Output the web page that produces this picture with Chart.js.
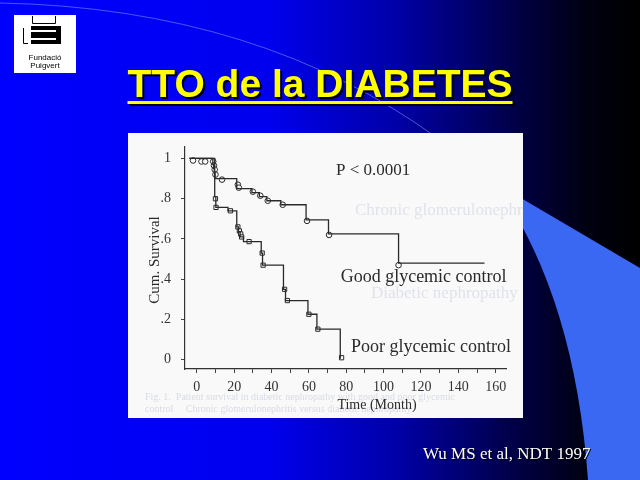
<!DOCTYPE html>
<html lang="es">
<head>
<meta charset="UTF-8">
<title>TTO de la DIABETES</title>
<script src="https://cdn.jsdelivr.net/npm/chart.js"></script>
<style>
  html, body { margin: 0; padding: 0; background: #0000f0; overflow: hidden; }
  #chart { display: block; }
</style>
</head>
<body>
<canvas id="chart" width="640" height="480"></canvas>
<script>
// Kaplan-Meier steps (months, cumulative survival)
const goodTime = [-4, 8.6, 9.0, 9.4, 9.8, 21.4, 29.5, 33.5, 37.5, 45, 58.5, 70.5, 108, 154];
const goodSurv = [1, 0.97, 0.95, 0.93, 0.90, 0.85, 0.83, 0.81, 0.79, 0.77, 0.695, 0.625, 0.48, 0.48];
const goodCensTime = [-2, 2.5, 4.5, 8.8, 9.2, 9.6, 10, 13.5, 22, 22.5, 30, 34, 38, 46, 59, 70.8, 108];
const goodCensSurv = [0.99, 0.985, 0.985, 0.985, 0.965, 0.945, 0.92, 0.895, 0.87, 0.855, 0.835, 0.815, 0.79, 0.77, 0.69, 0.62, 0.47];

const poorTime = [-4, 9.6, 10.2, 16.7, 21.4, 22.3, 23.2, 25, 34.5, 35.2, 46.4, 47.5, 59.5, 64.3, 76.8];
const poorSurv = [1, 0.81, 0.757, 0.74, 0.66, 0.636, 0.61, 0.587, 0.53, 0.47, 0.35, 0.294, 0.226, 0.152, 0.005];
const poorCensTime = [10, 10.3, 18, 22, 22.8, 23.5, 24, 28, 35, 35.5, 47, 48.5, 60, 64.8, 77.5];
const poorCensSurv = [0.80, 0.757, 0.74, 0.66, 0.64, 0.625, 0.61, 0.587, 0.53, 0.47, 0.35, 0.294, 0.226, 0.152, 0.01];

const xTicks = [0, 10, 20, 30, 40, 50, 60, 70, 80, 90, 100, 110, 120, 130, 140, 150, 160];
const yTicks = [0, 0.2, 0.4, 0.6, 0.8, 1];
const yTickLabels = ['0', '.2', '.4', '.6', '.8', '1'];

const toPoints = (xs, ys) => xs.map((x, i) => ({ x: x, y: ys[i] }));

const SERIF = '"Liberation Serif", "DejaVu Serif", serif';
const INK = '#2a2a2a';

// slide background, logo, title, white paper box
const slidePlugin = {
    id: 'slide',
    beforeDraw(chart) {
        const ctx = chart.ctx;
        ctx.save();
        const g = ctx.createLinearGradient(0, 0, 640, 0);
        g.addColorStop(0, '#0000ff');
        g.addColorStop(0.42, '#0000ee');
        g.addColorStop(0.62, '#0000a8');
        g.addColorStop(0.8, '#000048');
        g.addColorStop(0.92, '#000010');
        g.addColorStop(1, '#000000');
        ctx.fillStyle = g;
        ctx.fillRect(0, 0, 640, 480);

        // thin light arc
        ctx.strokeStyle = 'rgba(130,160,255,0.55)';
        ctx.lineWidth = 1;
        ctx.beginPath();
        ctx.moveTo(0, 3);
        ctx.quadraticCurveTo(260, 8, 440, 140);
        ctx.stroke();

        // light blue swoosh bottom right
        ctx.fillStyle = '#3b68f2';
        ctx.beginPath();
        ctx.moveTo(480, 174);
        ctx.lineTo(640, 268);
        ctx.lineTo(640, 480);
        ctx.lineTo(588, 480);
        ctx.quadraticCurveTo(575, 300, 500, 190);
        ctx.closePath();
        ctx.fill();

        // logo
        ctx.fillStyle = '#ffffff';
        ctx.fillRect(14, 15, 62, 58);
        ctx.strokeStyle = '#000';
        ctx.lineWidth = 1;
        ctx.beginPath();
        ctx.moveTo(32.5, 16); ctx.lineTo(32.5, 23.5); ctx.lineTo(55.5, 23.5); ctx.lineTo(55.5, 16);
        ctx.moveTo(23.5, 28); ctx.lineTo(23.5, 43.5); ctx.lineTo(28, 43.5);
        ctx.stroke();
        ctx.fillStyle = '#000';
        ctx.fillRect(31, 26, 30, 4);
        ctx.fillRect(31, 32, 30, 6);
        ctx.fillRect(31, 40, 30, 4);
        ctx.fillRect(56, 26, 5, 18);
        ctx.font = '8px "Liberation Sans", Arial, sans-serif';
        ctx.textAlign = 'center';
        ctx.textBaseline = 'middle';
        ctx.fillText('Fundació', 45, 58);
        ctx.fillText('Puigvert', 45, 66);

        // title
        ctx.font = 'bold 39px "Liberation Sans", Arial, sans-serif';
        ctx.textAlign = 'center';
        ctx.textBaseline = 'alphabetic';
        const title = 'TTO de la DIABETES';
        const tw = ctx.measureText(title).width;
        ctx.fillStyle = '#000000';
        ctx.fillText(title, 322, 99);
        ctx.fillRect(320 - tw / 2 + 2, 103, tw, 3);
        ctx.fillStyle = '#ffff00';
        ctx.fillText(title, 320, 97);
        ctx.fillRect(320 - tw / 2, 101, tw, 3);

        // citation
        ctx.font = '17px ' + SERIF;
        ctx.textAlign = 'left';
        ctx.fillStyle = '#000';
        ctx.fillText('Wu MS et al, NDT 1997', 424, 460);
        ctx.fillStyle = '#ffffff';
        ctx.fillText('Wu MS et al, NDT 1997', 423, 459);

        // paper
        ctx.fillStyle = '#f9f9f9';
        ctx.fillRect(128, 133, 395, 285);

        // faint show-through from the scanned page
        ctx.beginPath();
        ctx.rect(128, 133, 395, 285);
        ctx.clip();
        ctx.fillStyle = 'rgba(185,190,215,0.38)';
        ctx.font = '17px ' + SERIF;
        ctx.textBaseline = 'middle';
        ctx.fillText('Chronic glomerulonephritis', 355, 211);
        ctx.fillText('Diabetic nephropathy', 371, 294);
        ctx.font = '10px ' + SERIF;
        ctx.fillStyle = 'rgba(170,175,200,0.4)';
        ctx.fillText('Fig. 1.  Patient survival in diabetic nephropathy with good and poor glycemic', 145, 397);
        ctx.fillText('control     Chronic glomerulonephritis versus diabetic nephropathy', 145, 409);
        ctx.restore();
    },
    afterDatasetsDraw(chart) {
        const ctx = chart.ctx;
        const xs = chart.scales.x;
        const ys = chart.scales.y;
        ctx.save();
        ctx.fillStyle = INK;
        ctx.textAlign = 'left';
        ctx.textBaseline = 'middle';
        ctx.font = '17px ' + SERIF;
        ctx.fillText('P < 0.0001', xs.getPixelForValue(74.5), ys.getPixelForValue(0.94));
        ctx.font = '18px ' + SERIF;
        ctx.fillText('Good glycemic control', xs.getPixelForValue(77), ys.getPixelForValue(0.41));
        ctx.fillText('Poor glycemic control', xs.getPixelForValue(82.5), ys.getPixelForValue(0.06));

        // axis titles
        ctx.font = '14px ' + SERIF;
        ctx.textAlign = 'center';
        ctx.fillText('Time (Month)', 377, 405);
        ctx.translate(155, 260);
        ctx.rotate(-Math.PI / 2);
        ctx.font = '15px ' + SERIF;
        ctx.fillText('Cum. Survival', 0, 0);
        ctx.restore();
    }
};

const lineStyle = {
    borderColor: INK,
    borderWidth: 1.3,
    pointRadius: 0,
    fill: false,
    stepped: true,
    tension: 0
};

const markStyle = {
    showLine: false,
    borderColor: INK,
    backgroundColor: 'rgba(249,249,249,0.9)',
    borderWidth: 1
};

new Chart(document.getElementById('chart'), {
    type: 'line',
    data: {
        datasets: [
            Object.assign({ label: 'Good glycemic control', data: toPoints(goodTime, goodSurv) }, lineStyle),
            Object.assign({ label: 'Poor glycemic control', data: toPoints(poorTime, poorSurv) }, lineStyle),
            Object.assign({ label: 'Good censored', data: toPoints(goodCensTime, goodCensSurv),
                pointStyle: 'circle', pointRadius: 2.8 }, markStyle),
            Object.assign({ label: 'Poor censored', data: toPoints(poorCensTime, poorCensSurv),
                pointStyle: 'rect', pointRadius: 3 }, markStyle)
        ]
    },
    options: {
        responsive: false,
        animation: false,
        devicePixelRatio: 1,
        layout: { padding: { left: 140, right: 134, top: 147, bottom: 61 } },
        plugins: {
            legend: { display: false },
            tooltip: { enabled: false }
        },
        scales: {
            x: {
                type: 'linear',
                min: -6.3,
                max: 165.5,
                afterBuildTicks: scale => { scale.ticks = xTicks.map(v => ({ value: v })); },
                afterFit: scale => { scale.height = 50; },
                grid: { drawOnChartArea: false, drawTicks: true, tickLength: 4, color: '#444' },
                border: { display: true, color: '#333', width: 1.2 },
                ticks: {
                    autoSkip: false,
                    maxRotation: 0,
                    padding: 6,
                    color: '#333',
                    font: { family: SERIF, size: 14 },
                    callback: v => (v % 20 === 0 ? String(v) : '')
                }
            },
            y: {
                type: 'linear',
                min: -0.046,
                max: 1.057,
                afterBuildTicks: scale => { scale.ticks = yTicks.map(v => ({ value: v })); },
                afterFit: scale => { scale.width = 45; },
                grid: { drawOnChartArea: false, drawTicks: true, tickLength: 4, color: '#444' },
                border: { display: true, color: '#333', width: 1.2 },
                ticks: {
                    padding: 10,
                    color: '#333',
                    font: { family: SERIF, size: 14 },
                    callback: (v, i) => yTickLabels[i]
                }
            }
        }
    },
    plugins: [slidePlugin]
});
</script>
</body>
</html>
